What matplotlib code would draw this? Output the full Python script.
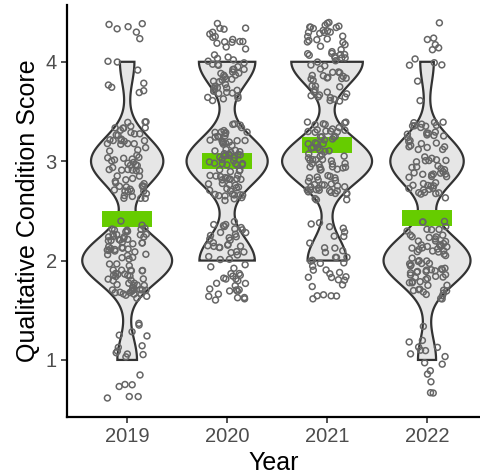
import numpy as np
import matplotlib
matplotlib.use("Agg")
import matplotlib.pyplot as plt

plt.rcParams['font.family'] = ['Liberation Sans', 'DejaVu Sans']

# datos: cuantas respuestas por puntaje en cada anio
years = ["2019", "2020", "2021", "2022"]
scores = [1, 2, 3, 4]
counts_2019 = [19, 87, 70, 14]
counts_2020 = [0, 56, 82, 57]
counts_2021 = [0, 36, 83, 66]
counts_2022 = [16, 77, 65, 12]
all_counts = [counts_2019, counts_2020, counts_2021, counts_2022]


def expand(counts):
    return np.repeat(scores, counts).astype(float)


def bw_nrd0(x):
    # igual que bw.nrd0 de R
    sd = np.std(x, ddof=1)
    q75, q25 = np.percentile(x, [75, 25])
    lo = min(sd, (q75 - q25) / 1.34)
    return 0.9 * lo * len(x) ** -0.2


def kde(x, grid):
    bw = bw_nrd0(x)
    z = (grid[:, None] - x[None, :]) / bw
    return np.exp(-0.5 * z ** 2).sum(axis=1) / (len(x) * bw * np.sqrt(2 * np.pi))


fig = plt.figure(figsize=(4.8, 4.76), dpi=100)
ax = fig.add_axes([0.14, 0.124, 0.86, 0.866])

datos = [expand(c) for c in all_counts]
grids = [np.linspace(d.min(), d.max(), 512) for d in datos]
dens = [kde(d, g) for d, g in zip(datos, grids)]
dmax = max(d.max() for d in dens)

rng = np.random.default_rng(7)
for i, (d, g, de) in enumerate(zip(datos, grids, dens)):
    pos = i + 1
    half = de / dmax * 0.45
    xs = np.concatenate([pos - half, (pos + half)[::-1]])
    ys = np.concatenate([g, g[::-1]])
    ax.fill(xs, ys, facecolor="#E6E6E6", edgecolor="#333333", linewidth=1.6, zorder=2)

    # barra de la media
    ax.hlines(d.mean(), pos - 0.25, pos + 0.25, colors="#66CC00", linewidth=11.5, zorder=3)

    # puntos con jitter
    jx = pos + rng.uniform(-0.2, 0.2, len(d))
    jy = d + rng.uniform(-0.4, 0.4, len(d))
    ax.scatter(jx, jy, s=18, facecolors="none", edgecolors="#666666", linewidths=1.1, zorder=4)

ax.set_xlim(0.4, 4.53)
ax.set_ylim(0.426, 4.574)
ax.set_xticks(range(1, 5))
ax.set_xticklabels(years)
ax.set_yticks(scores)

for s in ["top", "right"]:
    ax.spines[s].set_visible(False)
for s in ["left", "bottom"]:
    ax.spines[s].set_linewidth(1.6)
ax.tick_params(axis="both", length=4, width=1.2, color="#333333", labelsize=14.5, labelcolor="#4D4D4D")

ax.set_xlabel("Year", fontsize=18, color="black", labelpad=3)
ax.set_ylabel("Qualitative Condition Score", fontsize=18, color="black", labelpad=4)

fig.savefig("out.png", dpi=100)
